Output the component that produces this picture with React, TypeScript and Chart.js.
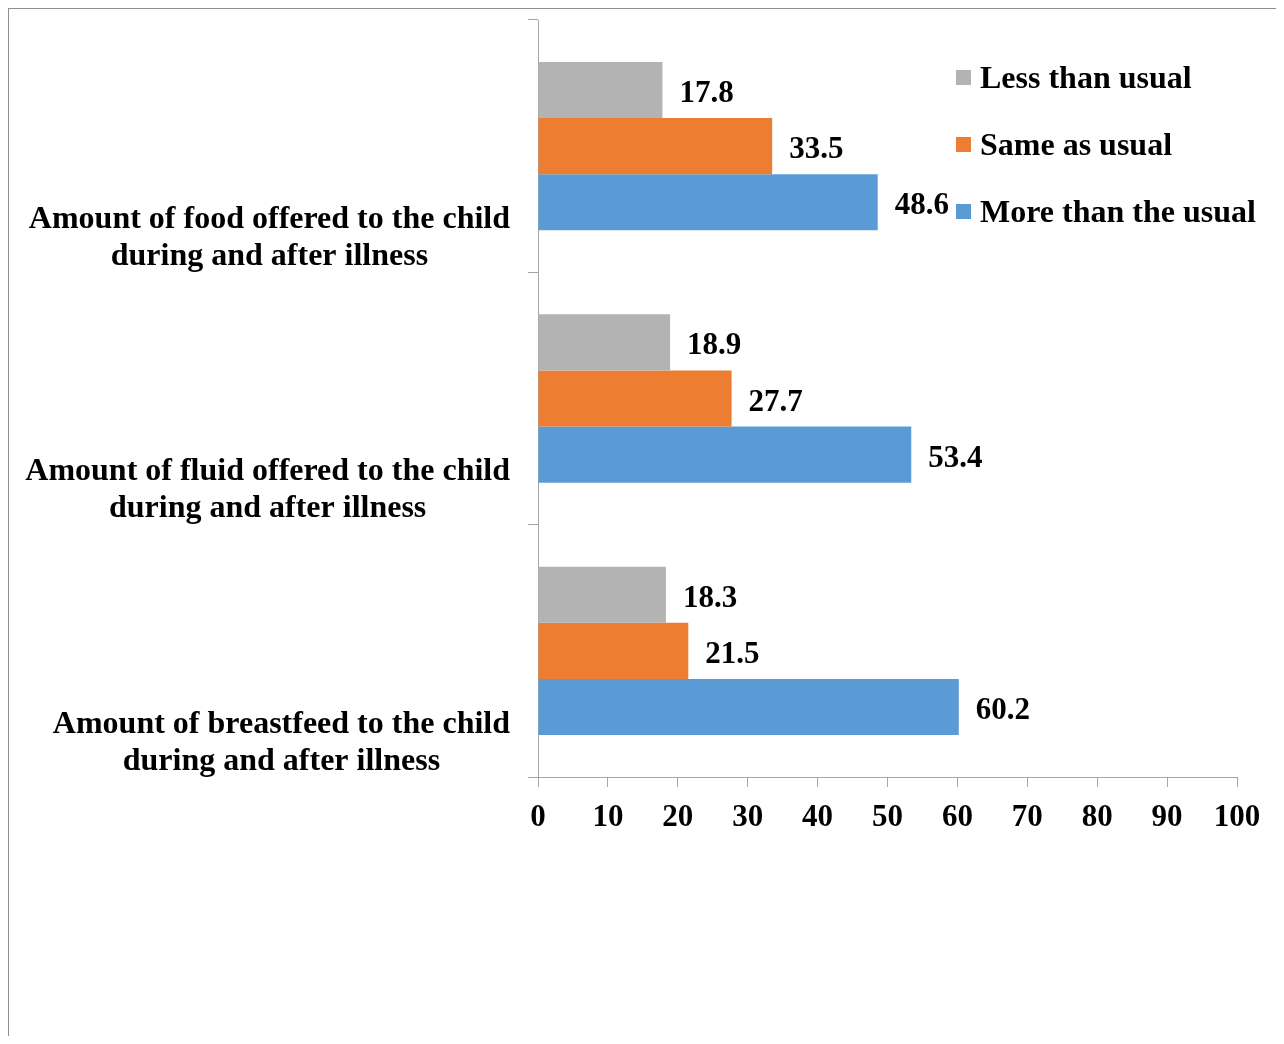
import React, { useEffect, useRef } from "react";
import { Chart, registerables } from "chart.js";

Chart.register(...registerables);

const categoryLabels: string[][] = [
  ["Amount of food offered to the child", "during and after illness"],
  ["Amount of fluid offered to the child", "during and after illness"],
  ["Amount of breastfeed to the child", "during and after illness"],
];
const seriesNames = ["Less than usual", "Same as usual", "More than the usual"];
const lessThanUsual = [17.8, 18.9, 18.3];
const sameAsUsual = [33.5, 27.7, 21.5];
const moreThanUsual = [48.6, 53.4, 60.2];
const xMin = 0;
const xMax = 100;
const xStep = 10;

const seriesColors = ["#B3B3B3", "#ED7D31", "#5B9BD5"];
const FONT = "'Liberation Serif', 'Times New Roman', serif";
const AXIS_COLOR = "#A6A6A6";

const categoryLabelPlugin = {
  id: "categoryLabelPlugin",
  afterDraw(chart: any) {
    const ctx = chart.ctx;
    const yScale = chart.scales.y;
    const right = chart.chartArea.left - 28;
    ctx.save();
    ctx.font = `bold 32px ${FONT}`;
    ctx.fillStyle = "#000";
    ctx.textBaseline = "middle";
    ctx.textAlign = "center";
    categoryLabels.forEach((lines, i) => {
      const yc = yScale.getPixelForValue(i) + 92;
      const widest = Math.max(...lines.map((l) => ctx.measureText(l).width));
      const cx = right - widest / 2;
      const lh = 37;
      lines.forEach((line, j) => {
        const y = yc + (j - (lines.length - 1) / 2) * lh;
        ctx.fillText(line, cx, y);
      });
    });
    ctx.restore();
  },
};

const valueLabelPlugin = {
  id: "valueLabelPlugin",
  afterDatasetsDraw(chart: any) {
    const ctx = chart.ctx;
    ctx.save();
    ctx.font = `bold 31px ${FONT}`;
    ctx.fillStyle = "#000";
    ctx.textBaseline = "middle";
    ctx.textAlign = "left";
    chart.data.datasets.forEach((ds: any, d: number) => {
      const meta = chart.getDatasetMeta(d);
      meta.data.forEach((el: any, i: number) => {
        const v = ds.data[i];
        ctx.fillText(Number(v).toFixed(1), el.x + 17, el.y + 4);
      });
    });
    ctx.restore();
  },
};

const legendPlugin = {
  id: "legendPlugin",
  afterDraw(chart: any) {
    const ctx = chart.ctx;
    const area = chart.chartArea;
    const x0 = area.left + 418;
    const rows = [57, 124, 191];
    ctx.save();
    ctx.font = `bold 32px ${FONT}`;
    ctx.textBaseline = "middle";
    ctx.textAlign = "left";
    chart.data.datasets.forEach((ds: any, d: number) => {
      const y = area.top + rows[d];
      ctx.fillStyle = ds.backgroundColor;
      ctx.fillRect(x0, y - 7, 15, 15);
      ctx.fillStyle = "#000";
      ctx.fillText(ds.label, x0 + 24, y + 3);
    });
    ctx.restore();
  },
};

export default function App() {
  const canvasRef = useRef<HTMLCanvasElement | null>(null);

  useEffect(() => {
    if (!canvasRef.current) return;
    const chart = new Chart(canvasRef.current, {
      type: "bar",
      data: {
        labels: categoryLabels.map((l) => l.join(" ")),
        datasets: [
          { label: seriesNames[0], data: lessThanUsual, backgroundColor: seriesColors[0] },
          { label: seriesNames[1], data: sameAsUsual, backgroundColor: seriesColors[1] },
          { label: seriesNames[2], data: moreThanUsual, backgroundColor: seriesColors[2] },
        ],
      },
      options: {
        indexAxis: "y",
        responsive: false,
        animation: false,
        devicePixelRatio: 1,
        layout: { padding: { left: 0, top: 11, right: 42, bottom: 0 } },
        datasets: {
          bar: { categoryPercentage: 0.667, barPercentage: 1.0, borderWidth: 0 },
        },
        plugins: {
          legend: { display: false },
          tooltip: { enabled: false },
          title: { display: false },
        },
        scales: {
          x: {
            type: "linear",
            min: xMin,
            max: xMax,
            ticks: {
              stepSize: xStep,
              color: "#000",
              font: { family: FONT, size: 31, weight: "bold" },
              padding: 12,
            },
            grid: {
              drawOnChartArea: false,
              drawTicks: true,
              tickLength: 10,
              color: AXIS_COLOR,
            },
            border: { display: true, color: AXIS_COLOR, width: 1 },
            afterFit(scale: any) {
              scale.height = 259;
            },
          },
          y: {
            type: "category",
            offset: true,
            ticks: { display: false },
            grid: {
              offset: true,
              drawOnChartArea: false,
              drawTicks: true,
              tickLength: 10,
              color: AXIS_COLOR,
            },
            border: { display: true, color: AXIS_COLOR, width: 1 },
            afterFit(scale: any) {
              scale.width = 529;
            },
          },
        },
      },
      plugins: [categoryLabelPlugin, valueLabelPlugin, legendPlugin],
    });
    return () => chart.destroy();
  }, []);

  return (
    <div
      style={{
        width: 1270,
        height: 1027,
        borderTop: "1px solid #8f8f8f",
        borderLeft: "1px solid #8f8f8f",
        borderRight: "1px solid #8f8f8f",
        background: "#fff",
      }}
    >
      <canvas ref={canvasRef} width={1270} height={1027} style={{ display: "block" }} />
    </div>
  );
}
